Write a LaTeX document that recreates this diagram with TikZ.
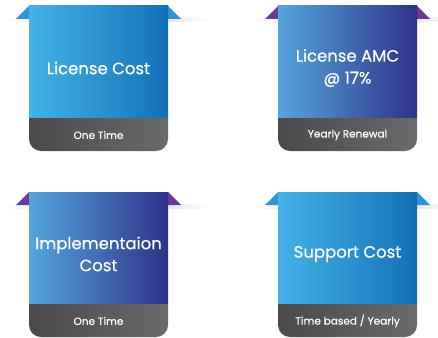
\documentclass[tikz,border=0pt]{standalone}
\usepackage{fontspec}
\setmainfont{Poppins}
\newfontfamily\cardfont{Poppins}[FakeBold=0.5]
\usetikzlibrary{positioning}
\definecolor{skyblue}{HTML}{45B3E7}
\definecolor{oceanblue}{HTML}{1370B8}
\definecolor{softblue}{HTML}{55A6DC}
\definecolor{indigo}{HTML}{2E3189}
\definecolor{ribbonblue}{HTML}{2F95D8}
\definecolor{ribbonpurple}{HTML}{6B3A97}
\definecolor{banddark}{HTML}{4A4A4A}
\definecolor{bandlight}{HTML}{6A6A6A}

\begin{document}
\begin{tikzpicture}[x=1pt,y=-1pt,
	title/.style={text=white,font=\cardfont\fontsize{16.5}{22}\selectfont,align=center},
	subtitle/.style={text=white,font=\cardfont\fontsize{10.5}{12}\selectfont}]
	\useasboundingbox (0,0) rectangle (438,337);
	\foreach \x/\y/\lc/\rc/\rib/\name/\ttl/\sub in {
		29/6/skyblue/oceanblue/ribbonblue/lic/{License Cost}/{One Time},
		278/6/softblue/indigo/ribbonpurple/amc/{License AMC\\@ 17\%}/{Yearly Renewal},
		29/192/softblue/indigo/ribbonpurple/impl/{Implementaion\\Cost}/{One Time},
		278/192/skyblue/oceanblue/ribbonblue/supp/{Support Cost}/{Time based / Yearly}} {
		% shadow under the ribbon
		\shade[left color=white,right color=white,middle color=black!22] (\x-26,\y+12) rectangle (\x+181,\y+16);
		% ribbon folds
		\fill[\rib] (\x-13,\y+13) -- (\x,\y) -- (\x,\y+13) -- cycle;
		\fill[\rib] (\x+139,\y) -- (\x+152,\y+13) -- (\x+139,\y+13) -- cycle;
		% card face and band
		\shade[left color=\lc,right color=\rc] (\x,\y) rectangle (\x+139,\y+112);
		\shade[left color=banddark,right color=bandlight] (\x,\y+112) [rounded corners=12] -- (\x,\y+145) -- (\x+139,\y+145) [sharp corners] -- (\x+139,\y+112) -- cycle;
		\node[title] (\name) at (\x+69.5,\y+62) {\ttl};
		\node[subtitle] (\name-sub) at (\x+69.5,\y+129) {\sub};
	}
\end{tikzpicture}
\end{document}
